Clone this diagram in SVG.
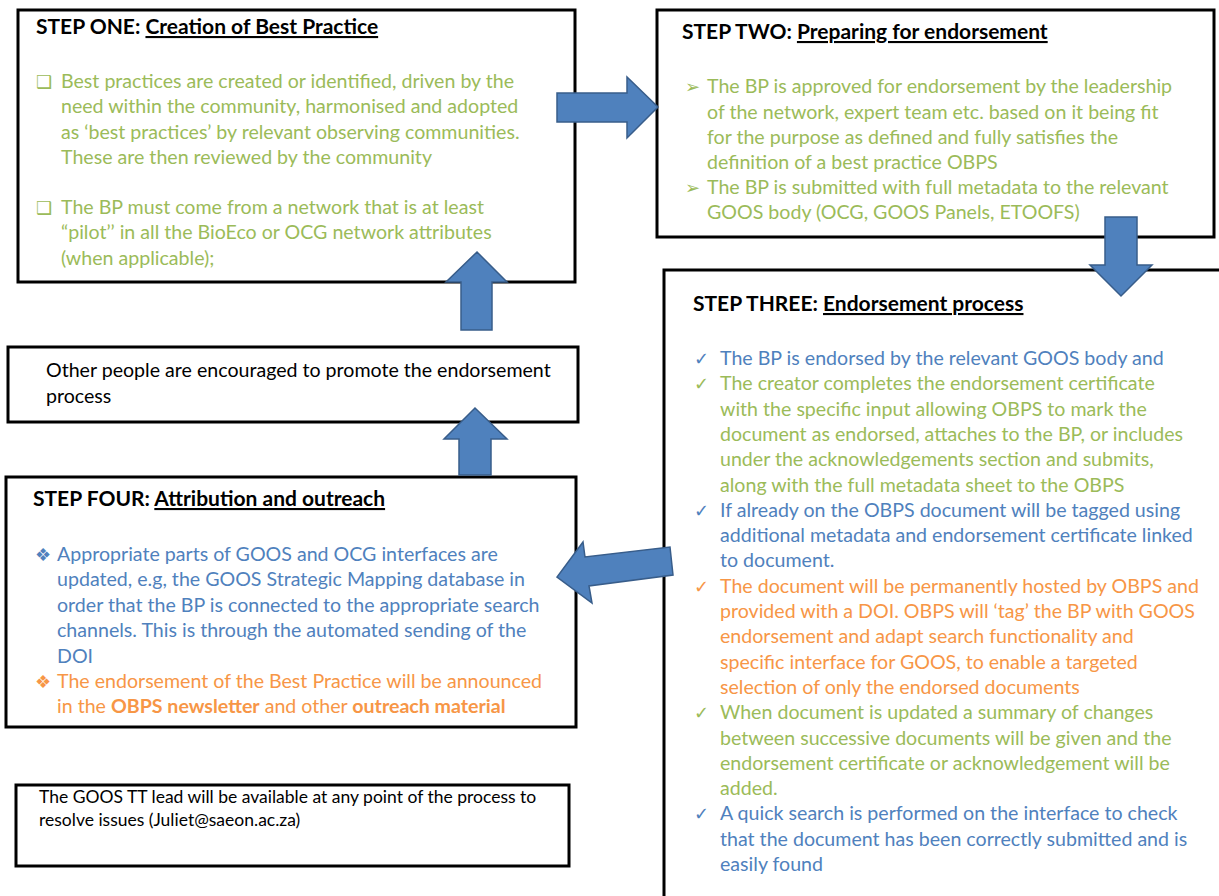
<svg xmlns="http://www.w3.org/2000/svg" width="1219" height="896" viewBox="0 0 1219 896">
<style>
.box{fill:#fff;stroke:#000;stroke-width:3}
.arrow{fill:#4F81BD;stroke:#385D8A;stroke-width:1.5;stroke-linejoin:miter}
text{font-family:Lato,"Liberation Sans",sans-serif;font-size:19.6px}
.t{font-weight:bold;fill:#000;font-size:21px}
.u{text-decoration:underline}
.g{fill:#9BBB59}
.b{fill:#4F81BD}
.o{fill:#F79646}
.k{fill:#000}
.bul{font-family:"DejaVu Sans",sans-serif;font-size:18px}
.sm{font-size:17.5px}
</style>
<rect width="1219" height="896" fill="#fff"/>

<g id="step1">
<rect class="box" x="18" y="10" width="557" height="272"/>
<text x="36" y="34" class="t">STEP ONE: <tspan class="u">Creation of Best Practice</tspan></text>
<text x="36" y="88" class="bul g">❑</text>
<text x="36" y="214" class="bul g">❑</text>
<text class="g">
<tspan x="61" y="88">Best practices are created or identified, driven by the</tspan>
<tspan x="61" y="113">need within the community, harmonised and adopted</tspan>
<tspan x="61" y="139">as ‘best practices’ by relevant observing communities.</tspan>
<tspan x="61" y="164">These are then reviewed by the community</tspan>
<tspan x="61" y="214">The BP must come from a network that is at least</tspan>
<tspan x="61" y="239">“pilot’’ in all the BioEco or OCG network attributes</tspan>
<tspan x="61" y="265">(when applicable);</tspan>
</text>
</g>

<g id="step2">
<rect class="box" x="657" y="10" width="557" height="227"/>
<text x="682" y="39" class="t">STEP TWO: <tspan class="u">Preparing for endorsement</tspan></text>
<text x="685" y="93" class="bul g">➢</text>
<text x="685" y="194" class="bul g">➢</text>
<text class="g">
<tspan x="707" y="93">The BP is approved for endorsement by the leadership</tspan>
<tspan x="707" y="119">of the network, expert team etc. based on it being fit</tspan>
<tspan x="707" y="144">for the purpose as defined and fully satisfies the</tspan>
<tspan x="707" y="169">definition of a best practice OBPS</tspan>
<tspan x="707" y="194">The BP is submitted with full metadata to the relevant</tspan>
<tspan x="707" y="219">GOOS body (OCG, GOOS Panels, ETOOFS)</tspan>
</text>
</g>

<g id="step3">
<path d="M664 896V270H1219V896Z" fill="#fff"/>
<path d="M664 896V270H1219" fill="none" stroke="#000" stroke-width="3"/>
<text x="693" y="311" class="t">STEP THREE: <tspan class="u">Endorsement process</tspan></text>
<text class="bul">
<tspan x="694" y="365" class="b">✓</tspan>
<tspan x="694" y="390" class="g">✓</tspan>
<tspan x="694" y="517" class="b">✓</tspan>
<tspan x="694" y="593" class="o">✓</tspan>
<tspan x="694" y="719" class="g">✓</tspan>
<tspan x="694" y="820" class="b">✓</tspan>
</text>
<text>
<tspan x="720" y="365" class="b">The BP is endorsed by the relevant GOOS body and</tspan>
<tspan x="720" y="390" class="g">The creator completes the endorsement certificate</tspan>
<tspan x="720" y="416" class="g">with the specific input allowing OBPS to mark the</tspan>
<tspan x="720" y="441" class="g">document as endorsed, attaches to the BP, or includes</tspan>
<tspan x="720" y="466" class="g">under the acknowledgements section and submits,</tspan>
<tspan x="720" y="492" class="g">along with the full metadata sheet to the OBPS</tspan>
<tspan x="720" y="517" class="b">If already on the OBPS document will be tagged using</tspan>
<tspan x="720" y="542" class="b">additional metadata and endorsement certificate linked</tspan>
<tspan x="720" y="567" class="b">to document.</tspan>
<tspan x="720" y="593" class="o">The document will be permanently hosted by OBPS and</tspan>
<tspan x="720" y="618" class="o">provided with a DOI. OBPS will ‘tag’ the BP with GOOS</tspan>
<tspan x="720" y="643" class="o">endorsement and adapt search functionality and</tspan>
<tspan x="720" y="669" class="o">specific interface for GOOS, to enable a targeted</tspan>
<tspan x="720" y="694" class="o">selection of only the endorsed documents</tspan>
<tspan x="720" y="719" class="g">When document is updated a summary of changes</tspan>
<tspan x="720" y="745" class="g">between successive documents will be given and the</tspan>
<tspan x="720" y="770" class="g">endorsement certificate or acknowledgement will be</tspan>
<tspan x="720" y="795" class="g">added.</tspan>
<tspan x="720" y="820" class="b">A quick search is performed on the interface to check</tspan>
<tspan x="720" y="846" class="b">that the document has been correctly submitted and is</tspan>
<tspan x="720" y="871" class="b">easily found</tspan>
</text>
</g>

<g id="promote">
<rect class="box" x="8" y="347" width="570" height="75"/>
<text class="k">
<tspan x="46" y="377">Other people are encouraged to promote the endorsement</tspan>
<tspan x="46" y="403">process</tspan>
</text>
</g>

<g id="step4">
<rect class="box" x="6" y="477" width="570" height="250"/>
<text x="33" y="506" class="t">STEP FOUR: <tspan class="u">Attribution and outreach</tspan></text>
<text x="35" y="561" class="bul b">❖</text>
<text x="35" y="688" class="bul o">❖</text>
<text>
<tspan x="57" y="561" class="b">Appropriate parts of GOOS and OCG interfaces are</tspan>
<tspan x="57" y="586" class="b">updated, e.g, the GOOS Strategic Mapping database in</tspan>
<tspan x="57" y="612" class="b">order that the BP is connected to the appropriate search</tspan>
<tspan x="57" y="637" class="b">channels. This is through the automated sending of the</tspan>
<tspan x="57" y="663" class="b">DOI</tspan>
<tspan x="57" y="688" class="o">The endorsement of the Best Practice will be announced</tspan>
<tspan x="57" y="713" class="o">in the <tspan font-weight="bold">OBPS newsletter</tspan> and other <tspan font-weight="bold">outreach material</tspan></tspan>
</text>
</g>

<g id="tt-lead">
<rect class="box" x="16" y="785" width="553" height="81"/>
<text class="k sm">
<tspan x="39" y="803">The GOOS TT lead will be available at any point of the process to</tspan>
<tspan x="39" y="826">resolve issues (Juliet@saeon.ac.za)</tspan>
</text>
</g>

<g id="connectors">
<polygon class="arrow" points="557,93 627,93 627,77 658,107 627,138 627,122 557,122"/>
<polygon class="arrow" points="1105,217 1137,217 1137,265 1152,265 1121,296 1090,265 1105,265"/>
<polygon class="arrow" points="670,547 673,575 589,586 592,603 557,577 583,542 585,557"/>
<polygon class="arrow" points="461,330 461,282 446,282 477,252 507,282 492,282 492,330"/>
<polygon class="arrow" points="459,475 459,439 444,439 475,408 507,439 491,439 491,475"/>
</g>
</svg>
